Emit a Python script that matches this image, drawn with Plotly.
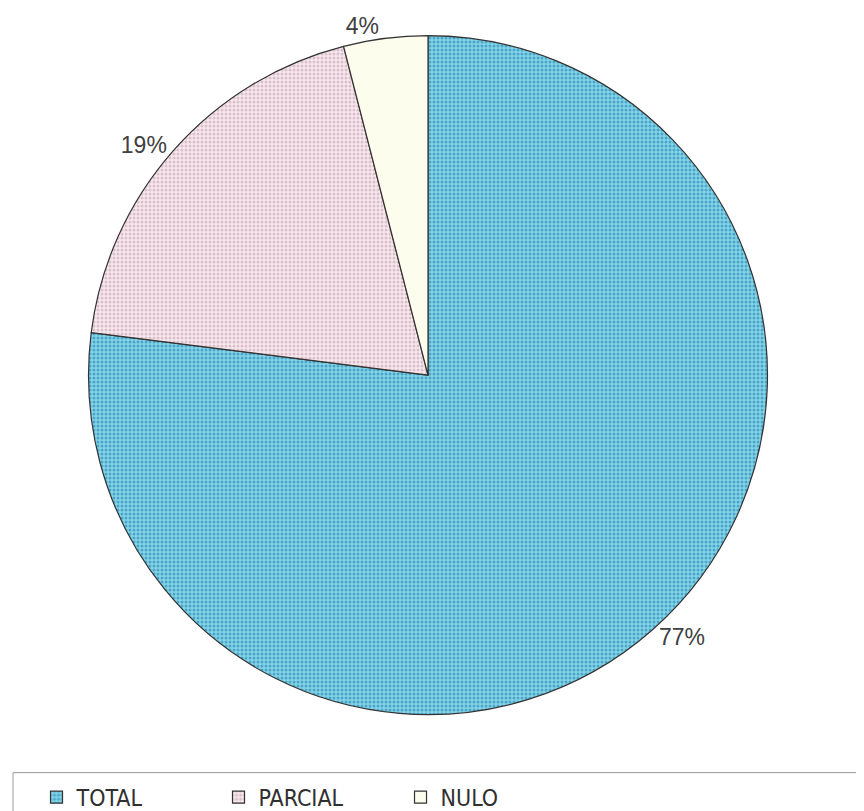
import plotly.graph_objects as go

categories = ["TOTAL", "PARCIAL", "NULO"]
values = [77, 19, 4]

colors = ["#86d4e8", "#f7e9ee", "#fdfdee"]
pattern_fg = ["#4aa6c8", "#dcbfca", "#fdfdee"]
pattern_shape = [".", ".", ""]

W, H = 864, 811
cx, cy, d = 420, 368, 690

fig = go.Figure(go.Pie(
    labels=categories,
    values=values,
    sort=False,
    direction="clockwise",
    rotation=0,
    textinfo="percent",
    texttemplate="%{percent:.0%}",
    textposition="outside",
    outsidetextfont=dict(family="Liberation Sans, Arial, sans-serif", size=23, color="#404040"),
    marker=dict(
        colors=colors,
        line=dict(color="#333333", width=1.2),
        pattern=dict(shape=pattern_shape, fgcolor=pattern_fg, bgcolor=colors,
                     size=4, solidity=0.45, fillmode="replace"),
    ),
    domain=dict(x=[(cx - d / 2) / W, (cx + d / 2) / W],
                y=[1 - (cy + d / 2) / H, 1 - (cy - d / 2) / H]),
    hoverinfo="label+percent",
))

fig.update_layout(
    width=W, height=H,
    margin=dict(l=0, r=0, t=0, b=0),
    paper_bgcolor="white",
    plot_bgcolor="white",
    showlegend=True,
    legend=dict(
        orientation="h",
        x=0.033, xanchor="left",
        y=1 - 797 / H, yanchor="middle",
        font=dict(family="Liberation Sans Narrow, Arial Narrow, DejaVu Sans Condensed, sans-serif",
                  size=23, color="#303030"),
        entrywidth=137, entrywidthmode="pixels",
        bgcolor="rgba(0,0,0,0)",
        borderwidth=0,
    ),
    shapes=[dict(type="rect", xref="paper", yref="paper",
                 x0=5 / W, x1=1.01, y0=-0.02, y1=1 - 772 / H,
                 line=dict(color="#9a9a9a", width=1), fillcolor="rgba(0,0,0,0)")],
)

fig.write_html("out.html")
